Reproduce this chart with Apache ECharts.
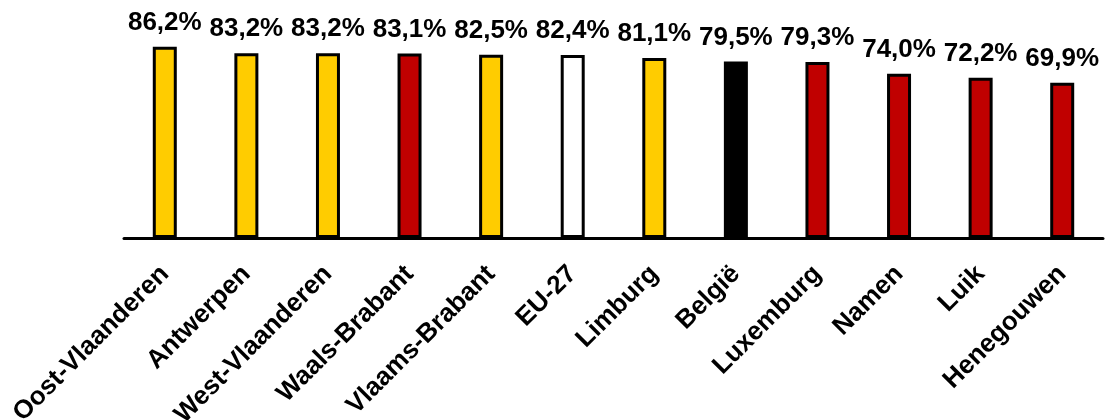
<!DOCTYPE html>
<html>
<head>
<meta charset="utf-8">
<script src="https://cdn.jsdelivr.net/npm/echarts@6/dist/echarts.min.js"></script>
<style>
html,body{margin:0;padding:0;background:#fff;}
#chart{width:1108px;height:420px;}
</style>
</head>
<body>
<div id="chart"></div>
<script>
const categories = ['Oost-Vlaanderen','Antwerpen','West-Vlaanderen','Waals-Brabant','Vlaams-Brabant','EU-27','Limburg','België','Luxemburg','Namen','Luik','Henegouwen'];
const values = [86.2, 83.2, 83.2, 83.1, 82.5, 82.4, 81.1, 79.5, 79.3, 74.0, 72.2, 69.9];
const groups = ['VL','VL','VL','WA','VL','EU','VL','BE','WA','WA','WA','WA'];
const groupColors = { VL: '#FFCC00', WA: '#C00000', EU: '#FFFFFF', BE: '#000000' };

const chart = echarts.init(document.getElementById('chart'), null, { renderer: 'canvas' });
chart.setOption({
  animation: false,
  backgroundColor: '#fff',
  textStyle: { fontFamily: 'Liberation Sans, Arial, sans-serif' },
  grid: { left: 124, right: 5, top: 16, bottom: 182, containLabel: false, outerBoundsMode: 'none' },
  xAxis: {
    type: 'category',
    data: categories,
    axisLine: { lineStyle: { color: '#000', width: 3 } },
    axisTick: { show: false },
    axisLabel: {
      rotate: 45, margin: 32, interval: 0,
      color: '#000', fontSize: 26, fontWeight: 'bold',
      fontFamily: 'Liberation Sans, Arial, sans-serif'
    }
  },
  yAxis: {
    type: 'value', min: 0, max: 100,
    show: false, splitLine: { show: false }
  },
  series: [{
    type: 'bar',
    barWidth: 24,
    data: values.map((v, i) => ({
      value: v,
      itemStyle: { color: groupColors[groups[i]], borderColor: '#000', borderWidth: 3 }
    })),
    label: {
      show: true, position: 'top', distance: 11,
      color: '#000', fontSize: 26, fontWeight: 'bold',
      fontFamily: 'Liberation Sans, Arial, sans-serif',
      formatter: p => p.value.toFixed(1).replace('.', ',') + '%'
    }
  }]
});
</script>
</body>
</html>
